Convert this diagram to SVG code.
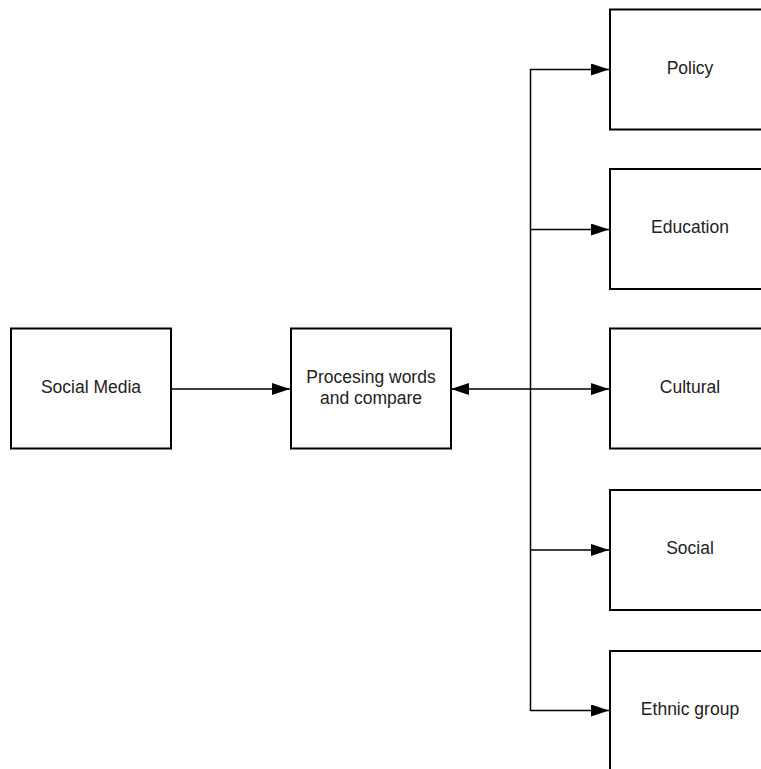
<svg xmlns="http://www.w3.org/2000/svg" width="761" height="769" viewBox="0 0 761 769">
<style>
.box{fill:#fff;stroke:#000;stroke-width:2}
.lbl{font-family:"Liberation Sans",Arial,sans-serif;font-size:17.5px;fill:#222;text-anchor:middle;dominant-baseline:central}
.conn{fill:none;stroke:#000;stroke-width:1.5}
</style>
<defs>
<marker id="ah" markerWidth="18" markerHeight="12" refX="18" refY="6" orient="auto-start-reverse" markerUnits="userSpaceOnUse">
<path d="M0,0 L18,6 L0,12 Z" fill="#000"/>
</marker>
</defs>
<rect width="761" height="769" fill="#fff"/>
<g id="connectors">
<path class="conn" d="M171,389 H290" marker-end="url(#ah)"/>
<path class="conn" d="M451,389 H609" marker-start="url(#ah)" marker-end="url(#ah)"/>
<path class="conn" d="M530.5,69 V711"/>
<path class="conn" d="M530.5,69.5 H609" marker-end="url(#ah)"/>
<path class="conn" d="M530.5,229.5 H609" marker-end="url(#ah)"/>
<path class="conn" d="M530.5,550 H609" marker-end="url(#ah)"/>
<path class="conn" d="M530.5,710.5 H609" marker-end="url(#ah)"/>
</g>
<g id="social-media">
<rect class="box" x="11" y="328.5" width="160" height="120"/>
<text class="lbl" x="91" y="386.5">Social Media</text>
</g>
<g id="processing">
<rect class="box" x="291" y="328.5" width="160" height="120"/>
<text class="lbl" x="371" y="376.5">Procesing words</text>
<text class="lbl" x="371" y="397.5">and compare</text>
</g>
<g id="policy">
<rect class="box" x="610" y="9.5" width="160" height="120"/>
<text class="lbl" x="690" y="67.5">Policy</text>
</g>
<g id="education">
<rect class="box" x="610" y="169" width="160" height="120"/>
<text class="lbl" x="690" y="227">Education</text>
</g>
<g id="cultural">
<rect class="box" x="610" y="328.5" width="160" height="120"/>
<text class="lbl" x="690" y="386.5">Cultural</text>
</g>
<g id="social">
<rect class="box" x="610" y="490" width="160" height="120"/>
<text class="lbl" x="690" y="547.5">Social</text>
</g>
<g id="ethnic-group">
<rect class="box" x="610" y="651" width="160" height="120"/>
<text class="lbl" x="690" y="709">Ethnic group</text>
</g>
</svg>
